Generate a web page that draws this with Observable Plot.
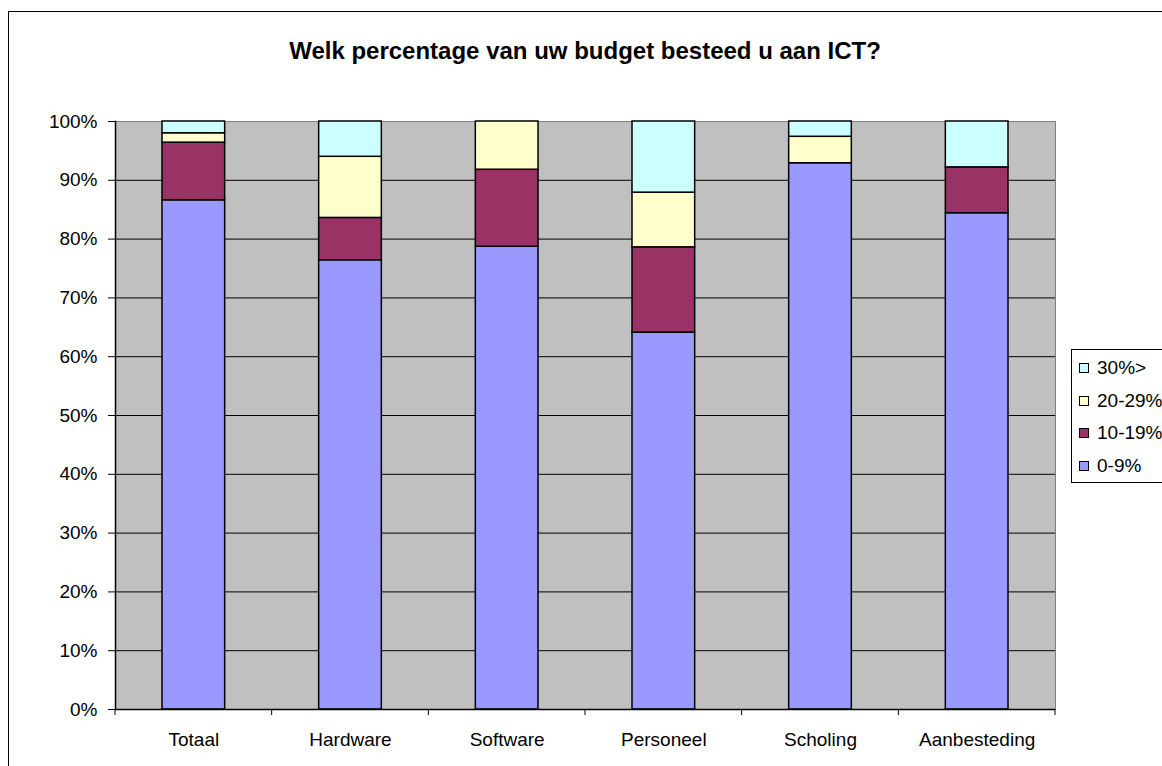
<!DOCTYPE html>
<html>
<head>
<meta charset="utf-8">
<script src="https://cdn.jsdelivr.net/npm/d3@7"></script>
<script src="https://cdn.jsdelivr.net/npm/@observablehq/plot@0.6"></script>
<style>
  html, body { margin: 0; padding: 0; background: #fff; overflow: hidden; }
  #wrap { position: relative; width: 1162px; height: 766px; overflow: hidden; font-family: "Liberation Sans", Arial, sans-serif; }
  #border { position: absolute; left: 8px; top: 11px; width: 1200px; height: 800px; border: 1px solid #000; box-sizing: border-box; }
  #title { position: absolute; left: 115px; width: 940px; top: 39px; text-align: center; font-weight: bold; font-size: 24px; line-height: 24px; color: #000; }
  #chart { position: absolute; left: 0; top: 0; }
  #legend { position: absolute; left: 1071px; top: 349px; width: 120px; height: 134px; border: 1px solid #000; box-sizing: border-box; background: #fff; }
  .item { position: absolute; left: 7px; height: 20px; font-size: 19px; line-height: 20px; white-space: nowrap; }
  .sw { position: absolute; left: 0; top: 5px; width: 10px; height: 10px; border: 1px solid #000; box-sizing: border-box; }
  .lab { position: absolute; left: 18px; top: 0; }
</style>
</head>
<body>
<div id="wrap">
  <div id="border"></div>
  <div id="chart"></div>
  <div id="title"></div>
  <div id="legend"></div>
</div>
<script>
const title = "Welk percentage van uw budget besteed u aan ICT?";
const categories = ["Totaal", "Hardware", "Software", "Personeel", "Scholing", "Aanbesteding"];
const seriesNames = ["0-9%", "10-19%", "20-29%", "30%>"];
const seriesColors = ["#9999FF", "#993366", "#FFFFCC", "#CCFFFF"];
const s0_9   = [86.6, 76.4, 78.7, 64.1, 92.9, 84.4];
const s10_19 = [9.8, 7.2, 13.1, 14.5, 0, 7.8];
const s20_29 = [1.6, 10.4, 8.2, 9.3, 4.5, 0];
const s30    = [2.0, 6.0, 0, 12.1, 2.6, 7.8];
const yTicks = [0, 10, 20, 30, 40, 50, 60, 70, 80, 90, 100];

const seriesValues = [s0_9, s10_19, s20_29, s30];
const data = [];
seriesNames.forEach((s, si) => {
  categories.forEach((c, ci) => data.push({category: c, series: s, value: seriesValues[si][ci]}));
});

document.getElementById("title").textContent = title;

const W = 1162, H = 766;
const mL = 115, mR = 107, mT = 121, mB = 57;

const plot = Plot.plot({
  width: W,
  height: H,
  marginLeft: mL,
  marginRight: mR,
  marginTop: mT,
  marginBottom: mB,
  style: {fontFamily: "'Liberation Sans', Arial, sans-serif", fontSize: "19px", color: "#000", background: "transparent"},
  x: {domain: categories, paddingInner: 0.6, paddingOuter: 0.3, round: false, label: null},
  y: {domain: [0, 100], label: null},
  color: {domain: seriesNames, range: seriesColors},
  marks: [
    Plot.frame({fill: "#C0C0C0", stroke: "#808080"}),
    Plot.gridY(yTicks.filter(d => d > 0 && d < 100), {stroke: "#000", strokeOpacity: 1, strokeWidth: 1}),
    Plot.axisY(yTicks, {tickSize: 7, tickPadding: 11, tickFormat: d => d + "%", label: null, stroke: "#000", fontSize: 19}),
    Plot.axisX({tickSize: 0, tickPadding: 23, label: null, fontSize: 19}),
    Plot.barY(data, {x: "category", y: "value", fill: "series", stroke: "#000", strokeWidth: 1.5}),
    Plot.ruleY([0], {stroke: "#000", strokeWidth: 1.5}),
    Plot.frame({anchor: "left", stroke: "#000", strokeWidth: 1.5})
  ]
});
document.getElementById("chart").appendChild(plot);

// category boundary ticks below the axis, placed with the plot's own x scale
const xs = plot.scale("x");
const svg = d3.select(plot);
const yBase = H - mB;
const stepPx = xs.step;
categories.forEach((c, i) => {
  const left = xs.apply(c) - stepPx * xs.paddingInner / 2;
  const pos = [left];
  if (i === categories.length - 1) pos.push(left + stepPx);
  pos.forEach(px => {
    svg.append("line").attr("x1", px).attr("x2", px).attr("y1", yBase).attr("y2", yBase + 6).attr("stroke", "#000");
  });
});

// legend built from the series arrays (top series first)
const legend = document.getElementById("legend");
const order = seriesNames.map((s, i) => i).reverse();
order.forEach((si, k) => {
  const item = document.createElement("div");
  item.className = "item";
  item.style.top = (8 + k * 32.7) + "px";
  const sw = document.createElement("div");
  sw.className = "sw";
  sw.style.background = seriesColors[si];
  const lab = document.createElement("div");
  lab.className = "lab";
  lab.textContent = seriesNames[si];
  item.appendChild(sw);
  item.appendChild(lab);
  legend.appendChild(item);
});
</script>
</body>
</html>
